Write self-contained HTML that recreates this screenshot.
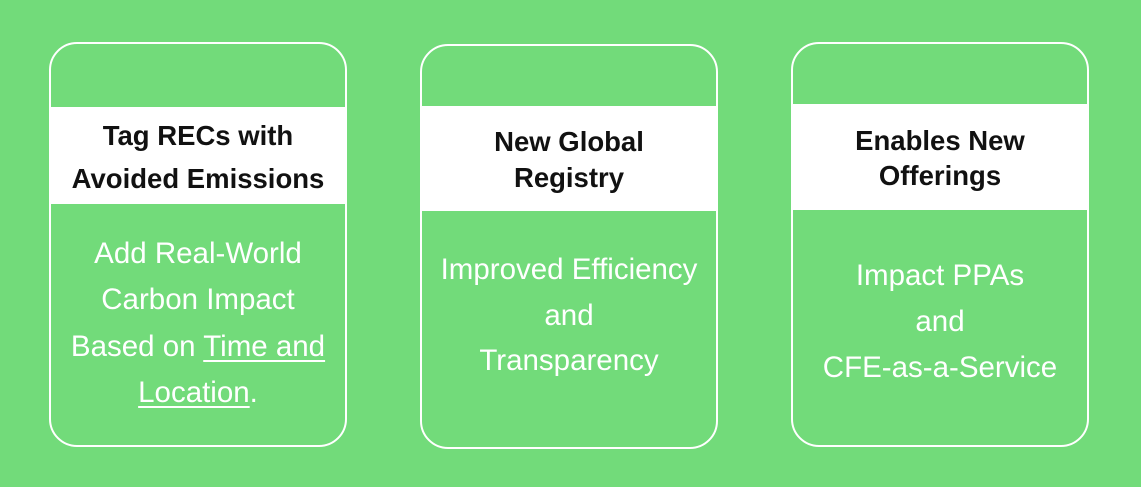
<!DOCTYPE html>
<html><head><meta charset="utf-8"><style>
html,body{margin:0;padding:0;}
body{width:1141px;height:487px;background:#72db7a;position:relative;overflow:hidden;font-family:"Liberation Sans",sans-serif;}
.card{position:absolute;width:294px;height:401px;border:2px solid #fff;border-radius:28px;box-sizing:content-box;overflow:hidden;}
.band{position:absolute;left:0;right:0;background:#fff;}
.t{position:absolute;left:-10px;right:-10px;text-align:center;font-weight:bold;font-size:27.5px;color:#111;line-height:30px;}
.b{position:absolute;left:-10px;right:-10px;text-align:center;font-size:29.5px;color:#fff;line-height:30px;}
u{text-decoration-thickness:2px;text-underline-offset:4px;}
</style></head><body>
<div class="card" style="left:49px;top:42px;">
 <div class="band" style="top:63px;height:97px;"></div>
 <div class="t" style="top:77px;">Tag RECs with</div>
 <div class="t" style="top:120px;">Avoided Emissions</div>
 <div class="b" style="top:195px;">Add Real-World</div>
 <div class="b" style="top:241px;">Carbon Impact</div>
 <div class="b" style="top:288px;">Based on <u>Time and</u></div>
 <div class="b" style="top:334px;"><u>Location</u>.</div>
</div>
<div class="card" style="left:420px;top:44px;">
 <div class="band" style="top:60px;height:105px;"></div>
 <div class="t" style="top:81px;">New Global</div>
 <div class="t" style="top:117px;">Registry</div>
 <div class="b" style="top:209px;">Improved Efficiency</div>
 <div class="b" style="top:255px;">and</div>
 <div class="b" style="top:300px;">Transparency</div>
</div>
<div class="card" style="left:791px;top:42px;">
 <div class="band" style="top:60px;height:106px;"></div>
 <div class="t" style="top:82px;">Enables New</div>
 <div class="t" style="top:117px;">Offerings</div>
 <div class="b" style="top:217px;">Impact PPAs</div>
 <div class="b" style="top:263px;">and</div>
 <div class="b" style="top:309px;">CFE-as-a-Service</div>
</div>
</body></html>
